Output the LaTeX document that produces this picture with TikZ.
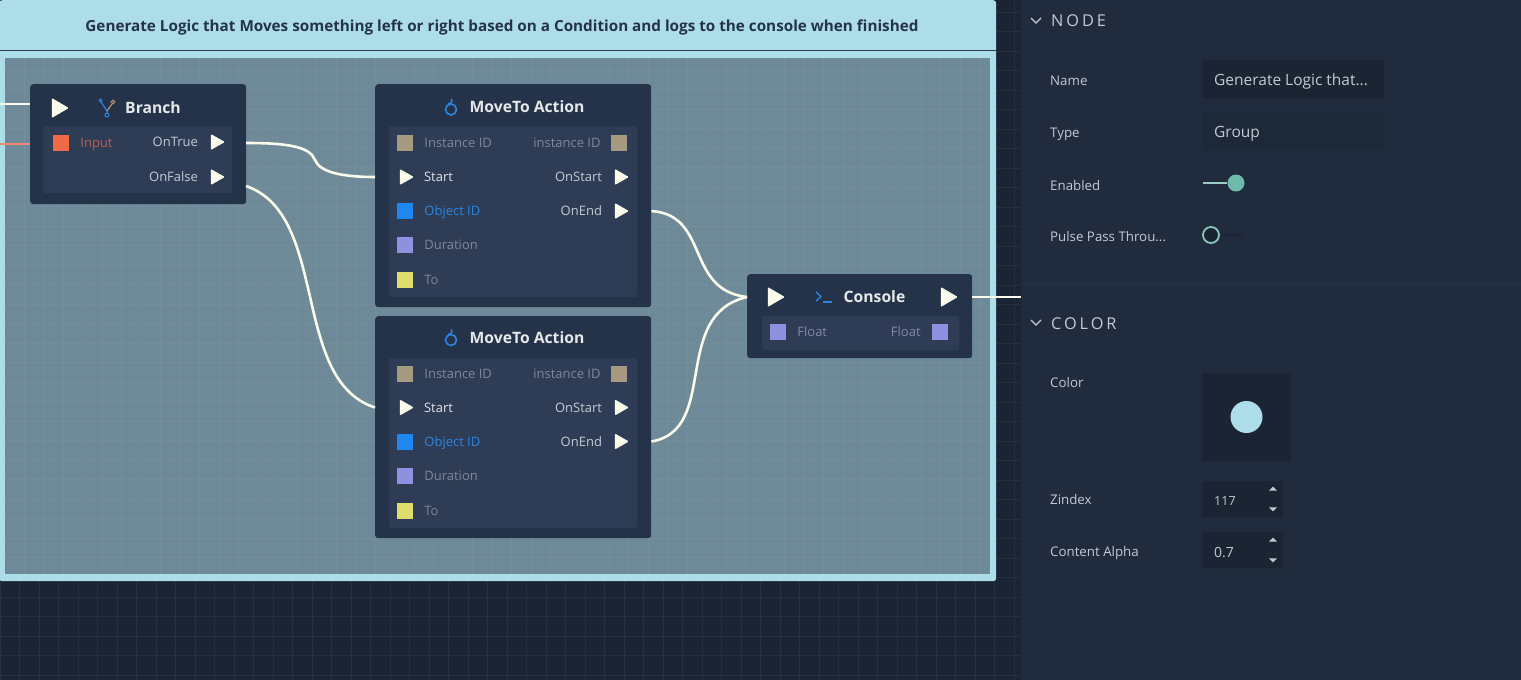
\documentclass[tikz,border=0pt]{standalone}
\usepackage{fontspec}
\setmainfont{Open Sans}
\newfontfamily\headfont[LetterSpace=18]{Open Sans}
\usetikzlibrary{positioning,shapes.geometric}
\definecolor{canvasbg}{HTML}{1A2434}
\definecolor{panelbg}{HTML}{202B3D}
\definecolor{fieldbg}{HTML}{1A2432}
\definecolor{groupblue}{HTML}{AEDDEA}
\definecolor{groupbody}{HTML}{6E8A98}
\definecolor{nodeouter}{HTML}{25334A}
\definecolor{nodeinner}{HTML}{2E3C55}
\definecolor{wirewhite}{HTML}{FBFBEC}
\definecolor{textdim}{HTML}{7C899C}
\definecolor{textsoft}{HTML}{C4CAD4}
\definecolor{togglegreen}{HTML}{6DB9AA}
\definecolor{pinbrown}{HTML}{A89A80}
\definecolor{pinblue}{HTML}{1E88F0}
\definecolor{pinviolet}{HTML}{9090E0}
\definecolor{pinyellow}{HTML}{DEDC6C}
\definecolor{pinred}{HTML}{F06A48}
\definecolor{iconblue}{HTML}{2C86E0}
\tikzset{
  nodebody/.style={fill=nodeouter,rounded corners=3pt,anchor=north west,inner sep=0pt},
  nodeband/.style={fill=nodeinner,rounded corners=2pt,anchor=north west,inner sep=0pt},
  pulsepin/.style={isosceles triangle,isosceles triangle stretches,fill=wirewhite,
    minimum width=16pt,minimum height=14pt,inner sep=0pt,rounded corners=1pt},
  bigpin/.style={pulsepin,minimum width=20pt,minimum height=17pt},
  datapin/.style={rectangle,minimum size=16pt,inner sep=0pt},
  nodetitle/.style={text=white!88!nodeouter,font=\fontsize{15.7}{17}\selectfont\bfseries,
    inner sep=0pt,text height=11pt,text depth=0pt},
  pinlabel/.style={font=\fontsize{13}{14}\selectfont,inner sep=0pt,text height=9.5pt,text depth=0pt},
  wire/.style={draw=wirewhite,line width=2.6pt},
  proplabel/.style={text=textsoft,font=\fontsize{13.3}{14}\selectfont,anchor=west,inner sep=0pt,
    text height=9.5pt,text depth=0pt},
  propvalue/.style={text=textsoft,font=\fontsize{15.5}{16}\selectfont,anchor=west,inner sep=0pt,
    text height=11pt,text depth=0pt},
  heading/.style={text=textsoft,font=\fontsize{16.3}{17}\selectfont\headfont,anchor=west,inner sep=0pt,
    text height=11.5pt,text depth=0pt},
  field/.style={fill=fieldbg,anchor=north west,inner sep=0pt,rounded corners=1pt},
  stepper/.style={isosceles triangle,isosceles triangle stretches,fill=textsoft,
    minimum width=8pt,minimum height=4pt,inner sep=0pt},
  node distance=11pt
}
\begin{document}
\begin{tikzpicture}[x=1pt,y=-1pt]
\useasboundingbox (0,0) rectangle (1521,680);
\fill[canvasbg] (0,0) rectangle (1021,680);
% canvas grid
\foreach \gx in {0,19.5,...,1021}
  \draw[white,opacity=0.05,line width=0.8pt] (\gx,0) -- (\gx,680);
\foreach \gy in {12,31.5,...,680}
  \draw[white,opacity=0.05,line width=0.8pt] (0,\gy) -- (1021,\gy);
\fill[panelbg] (1021,0) rectangle (1521,680);
\draw[white,opacity=0.03,line width=0.8pt] (1021,283) -- (1521,283);

% group
\node[fill=groupblue,rounded corners=3pt,anchor=north west,inner sep=0pt,
  minimum width=997pt,minimum height=581pt] (group) at (-1,0) {};
\node[fill=groupbody,anchor=north west,inner sep=0pt,
  minimum width=985pt,minimum height=516pt] (groupinner) at (5,58) {};
\foreach \gx in {24,43.5,...,990}
  \draw[white,opacity=0.04,line width=0.8pt] (\gx,58) -- (\gx,574);
\foreach \gy in {70,89.5,...,574}
  \draw[white,opacity=0.04,line width=0.8pt] (5,\gy) -- (990,\gy);
\draw[nodeinner,line width=1pt] (0,50.5) -- (996,50.5);
\node[text=nodeouter,font=\fontsize{15.25}{17}\selectfont\bfseries,inner sep=0pt,text height=11pt,text depth=0pt] (grouptitle) at (502,26)
  {Generate Logic that Moves something left or right based on a Condition and logs to the console when finished};

% branch
\node[nodebody,minimum width=216pt,minimum height=120pt] (branch) at (30,84) {};
\node[nodeband,minimum width=189pt,minimum height=67pt] (branchband) at (43,126) {};
\node[bigpin] (branchin) at (57.5,108) {};
\node[nodetitle] (branchtitle) at (153,107.5) {Branch};
\draw[iconblue,line width=1.2pt] (101,102) -- (107,111) -- (107,113);
\draw[pinbrown!70!pinred,line width=1.2pt] (112,104) -- (107,111);
\draw[iconblue,line width=1pt] (100.5,100.5) circle (1.5pt);
\draw[pinbrown!70!pinred,line width=1pt] (113,102) circle (1.8pt);
\draw[iconblue,line width=1pt] (107,115) circle (2pt);
\node[datapin,fill=pinred] (branchinput) at (61,143) {};
\node[pinlabel,text=pinred!75!nodeinner,right=of branchinput] (branchinputl) {Input};
\node[pulsepin] (ontrue) at (215.5,142) {};
\node[pinlabel,text=textsoft,left=12.5pt of ontrue] (ontruel) {OnTrue};
\node[pulsepin] (onfalse) at (215.5,177) {};
\node[pinlabel,text=textsoft,left=12.5pt of onfalse] (onfalsel) {OnFalse};

% the two move actions
\foreach \m/\dy/\by in {a/0/0,b/230.5/232}{
  \node[nodebody,minimum width=276pt,minimum height=223pt-\by/232*1pt] (move\m) at (375,84+\by) {};
  \node[nodeband,minimum width=248pt,minimum height=171pt-\by/232*1pt] (move\m band) at (389,126+\by) {};
  \node[nodetitle] (move\m title) at (527,107+\dy) {MoveTo Action};
  \draw[iconblue,line width=1.6pt] (451,109.5+\dy) circle (5.5pt);
  \draw[iconblue,line width=1.4pt] (448,104+\dy) .. controls (452,103+\dy) and (453,101+\dy) .. (451,99+\dy);
  \node[datapin,fill=pinbrown] (move\m inst) at (405,143+\dy) {};
  \node[pinlabel,text=textdim,right=of move\m inst] (move\m instl) {Instance ID};
  \node[datapin,fill=pinbrown] (move\m outinst) at (619,143+\dy) {};
  \node[pinlabel,text=textdim,left=10pt of move\m outinst] (move\m outinstl) {instance ID};
  \node[pulsepin] (move\m start) at (404.5,177+\dy) {};
  \node[pinlabel,text=white!85!nodeinner,right=9.5pt of move\m start] (move\m startl) {Start};
  \node[pulsepin] (move\m onstart) at (619.5,177+\dy) {};
  \node[pinlabel,text=textsoft,left=12.5pt of move\m onstart] (move\m onstartl) {OnStart};
  \node[datapin,fill=pinblue] (move\m obj) at (405,211+\dy) {};
  \node[pinlabel,text=iconblue,right=of move\m obj] (move\m objl) {Object ID};
  \node[pulsepin] (move\m onend) at (619.5,211+\dy) {};
  \node[pinlabel,text=textsoft,left=12.5pt of move\m onend] (move\m onendl) {OnEnd};
  \node[datapin,fill=pinviolet] (move\m dur) at (405,245+\dy) {};
  \node[pinlabel,text=textdim,right=of move\m dur] (move\m durl) {Duration};
  \node[datapin,fill=pinyellow] (move\m to) at (405,280+\dy) {};
  \node[pinlabel,text=textdim,right=of move\m to] (move\m tol) {To};
}

% console
\node[nodebody,minimum width=225pt,minimum height=84pt] (console) at (747,274) {};
\node[nodeband,minimum width=197pt,minimum height=34pt] (consoleband) at (762,316) {};
\node[bigpin] (consolein) at (773.5,297) {};
\node[bigpin] (consoleout) at (946.5,297) {};
\node[nodetitle] (consoletitle) at (874.5,297) {Console};
\draw[iconblue,line width=1.3pt] (816,292) -- (821,296.5) -- (816,301);
\draw[iconblue,line width=1.3pt] (823,302) -- (832,302);
\node[datapin,fill=pinviolet] (floatin) at (778,332) {};
\node[pinlabel,text=textdim!80!pinviolet,right=of floatin] (floatinl) {Float};
\node[datapin,fill=pinviolet] (floatout) at (940,332) {};
\node[pinlabel,text=textdim!80!pinviolet,left=of floatout] (floatoutl) {Float};

% wires
\coordinate (pulsefree) at (0,104);
\coordinate (inputfree) at (0,144);
\coordinate (outfree) at (1021,297);
\coordinate (ontrueout) at (246,143);
\coordinate (onfalseout) at (246,186);
\coordinate (kink) at (315,160);
\draw[wire] (pulsefree) -- (branch.west |- pulsefree);
\draw[draw=pinred!80!white,line width=1.8pt] (inputfree) -- (branch.west |- inputfree);
\draw[wire] (ontrueout) .. controls (285,143) and (310,146) .. (kink)
  .. controls (320,173) and (345,177) .. (movea.west |- moveastart);
\draw[wire] (onfalseout) .. controls (330,215) and (290,380) .. (moveb.west |- movebstart);
\draw[wire] (movea.east |- moveaonend) .. controls (710,215) and (685,290) .. (console.west |- consolein);
\draw[wire] (moveb.east |- movebonend) .. controls (720,430) and (670,315) .. (console.west |- consolein);
\draw[wire] (console.east |- consoleout) -- (outfree);

% properties panel
\draw[textsoft,line width=1.1pt] (1031,18) -- (1036,23) -- (1041,18);
\node[heading] (nodehead) at (1051,21) {NODE};
\node[proplabel] (namel) at (1050,81) {Name};
\node[field,minimum width=182pt,minimum height=38pt] (namefield) at (1202,60) {};
\node[propvalue] (nameval) at (1214,80) {Generate Logic that...};
\node[proplabel] (typel) at (1050,133) {Type};
\node[field,minimum width=182pt,minimum height=37pt,opacity=0.35] (typefield) at (1202,113) {};
\node[propvalue] (typeval) at (1214,132) {Group};
\node[proplabel] (enabledl) at (1050,186) {Enabled};
\node[circle,fill=togglegreen,minimum size=17pt,inner sep=0pt] (enabledknob) at (1236,183) {};
\coordinate (enabledstart) at (1203,183);
\draw[togglegreen!70!white,line width=1.6pt] (enabledstart) -- (enabledknob);
\node[proplabel] (pulsel) at (1050,237) {Pulse Pass Throu...};
\node[circle,draw=togglegreen!80!white,fill=fieldbg,line width=1.8pt,minimum size=16pt,inner sep=0pt] (pulseknob) at (1211,235) {};
\coordinate (pulseend) at (1243,235);
\draw[fieldbg,line width=1.4pt] (pulseknob) -- (pulseend);
\draw[textsoft,line width=1.1pt] (1031,320) -- (1036,325) -- (1041,320);
\node[heading] (colorhead) at (1051,324) {COLOR};
\node[proplabel] (colorl) at (1050,383) {Color};
\node[field,minimum width=89pt,minimum height=88pt] (colorfield) at (1202,373) {};
\node[circle,fill=groupblue,minimum size=32pt,inner sep=0pt] (colordot) at (1246.5,417) {};
\node[proplabel] (zindexl) at (1050,500) {Zindex};
\node[field,minimum width=81pt,minimum height=36pt] (zindexfield) at (1202,481) {};
\node[propvalue,font=\fontsize{12.5}{14}\selectfont] (zindexval) at (1214,500) {117};
\node[stepper,shape border rotate=90] (zindexup) at (1273,489) {};
\node[stepper,shape border rotate=270] (zindexdown) at (1273,509) {};
\node[proplabel] (alphal) at (1050,552) {Content Alpha};
\node[field,minimum width=81pt,minimum height=36pt] (alphafield) at (1202,532) {};
\node[propvalue,font=\fontsize{14}{14}\selectfont] (alphaval) at (1214,552) {0.7};
\node[stepper,shape border rotate=90] (alphaup) at (1273,540) {};
\node[stepper,shape border rotate=270] (alphadown) at (1273,560) {};
\end{tikzpicture}
\end{document}
